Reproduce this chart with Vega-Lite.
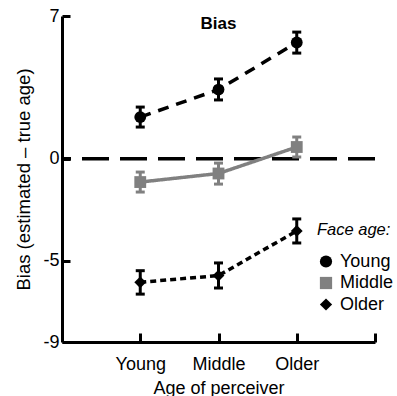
{
  "$schema": "https://vega.github.io/schema/vega-lite/v6.json",
  "width": 313,
  "height": 326,
  "autosize": {"type": "none"},
  "padding": {"left": 62, "top": 16, "right": 22, "bottom": 54},
  "background": "white",
  "title": {"text": "Bias", "frame": "group", "anchor": "middle", "orient": "top", "offset": 0, "dy": 39, "fontSize": 17, "fontWeight": "bold", "font": "Liberation Sans", "color": "black", "baseline": "alphabetic"},
  "config": {
    "view": {"stroke": null},
    "font": "Liberation Sans",
    "axis": {"domainColor": "black", "domainWidth": 3, "tickColor": "black", "tickWidth": 3, "grid": false, "labelColor": "black", "titleColor": "black", "labelFont": "Liberation Sans", "titleFont": "Liberation Sans", "labelFontSize": 18, "titleFontSize": 18, "titleFontWeight": "normal"}
  },
  "datasets": {
    "pts": [
      {"perceiver": 1, "face": "Young", "bias": 2.04, "lo": 1.55, "hi": 2.53},
      {"perceiver": 2, "face": "Young", "bias": 3.39, "lo": 2.88, "hi": 3.91},
      {"perceiver": 3, "face": "Young", "bias": 5.7, "lo": 5.18, "hi": 6.21},
      {"perceiver": 1, "face": "Middle", "bias": -1.15, "lo": -1.64, "hi": -0.66},
      {"perceiver": 2, "face": "Middle", "bias": -0.73, "lo": -1.25, "hi": -0.22},
      {"perceiver": 3, "face": "Middle", "bias": 0.57, "lo": 0.08, "hi": 1.06},
      {"perceiver": 1, "face": "Older", "bias": -6.07, "lo": -6.65, "hi": -5.5},
      {"perceiver": 2, "face": "Older", "bias": -5.74, "lo": -6.35, "hi": -5.12},
      {"perceiver": 3, "face": "Older", "bias": -3.55, "lo": -4.14, "hi": -2.96}
    ],
    "zero": [{"y": 0}]
  },
  "layer": [
    {
      "data": {"name": "zero"},
      "mark": {"type": "rule", "strokeDash": [27, 11], "strokeWidth": 3.5, "color": "black"},
      "encoding": {
        "y": {"field": "y", "type": "quantitative", "scale": {"domain": [-9, 7], "nice": false, "zero": false},
          "axis": {"values": [7, 0, -5, -9], "labelExpr": "'' + datum.value", "tickSize": -8, "labelPadding": 11, "title": "Bias (estimated \u2013 true age)", "titlePadding": 9, "titleFontSize": 18.5}}
      }
    },
    {
      "data": {"name": "pts"},
      "mark": {"type": "line", "strokeWidth": 3.5},
      "encoding": {
        "x": {"field": "perceiver", "type": "quantitative", "scale": {"domain": [0, 4], "nice": false, "zero": false},
          "axis": {"values": [1, 2, 3, 4], "tickSize": -9, "labelPadding": 22, "labelExpr": "datum.value == 1 ? 'Young' : datum.value == 2 ? 'Middle' : datum.value == 3 ? 'Older' : ''", "title": "Age of perceiver", "titlePadding": 6}},
        "y": {"field": "bias", "type": "quantitative"},
        "stroke": {"field": "face", "type": "nominal", "scale": {"domain": ["Middle", "Young", "Older"], "range": ["#808080", "#000000", "#000000"]}, "legend": null},
        "strokeDash": {"field": "face", "type": "nominal", "scale": {"domain": ["Older", "Middle", "Young"], "range": [[6, 4], [1, 0], [11, 8]]}, "legend": null}
      }
    },
    {
      "data": {"name": "pts"},
      "mark": {"type": "rule", "strokeWidth": 3},
      "encoding": {
        "x": {"field": "perceiver", "type": "quantitative"},
        "y": {"field": "lo", "type": "quantitative"},
        "y2": {"field": "hi"},
        "stroke": {"field": "face", "type": "nominal", "legend": null}
      }
    },
    {
      "data": {"name": "pts"},
      "mark": {"type": "tick", "orient": "horizontal", "size": 9, "thickness": 3, "opacity": 1},
      "encoding": {
        "x": {"field": "perceiver", "type": "quantitative"},
        "y": {"field": "lo", "type": "quantitative"},
        "color": {"field": "face", "type": "nominal", "scale": {"domain": ["Middle", "Young", "Older"], "range": ["#808080", "#000000", "#000000"]}, "legend": null}
      }
    },
    {
      "data": {"name": "pts"},
      "mark": {"type": "tick", "orient": "horizontal", "size": 9, "thickness": 3, "opacity": 1},
      "encoding": {
        "x": {"field": "perceiver", "type": "quantitative"},
        "y": {"field": "hi", "type": "quantitative"},
        "color": {"field": "face", "type": "nominal", "legend": null}
      }
    },
    {
      "data": {"name": "pts"},
      "mark": {"type": "point", "filled": true, "opacity": 1, "size": 140},
      "encoding": {
        "x": {"field": "perceiver", "type": "quantitative"},
        "y": {"field": "bias", "type": "quantitative"},
        "fill": {"field": "face", "type": "nominal", "scale": {"domain": ["Young", "Middle", "Older"], "range": ["#000000", "#808080", "#000000"]},
          "legend": {"title": "Face age:", "orient": "none", "legendX": 255, "legendY": 206, "padding": 0, "titleFontStyle": "italic", "titleFontWeight": "normal", "titleFontSize": 16.5, "titleFont": "Liberation Sans", "titleColor": "black", "titlePadding": 14, "labelFontSize": 18, "labelFont": "Liberation Sans", "labelColor": "black", "labelOffset": 5, "symbolSize": 150, "symbolStrokeWidth": 0, "rowPadding": 3.5}},
        "shape": {"field": "face", "type": "nominal", "scale": {"domain": ["Young", "Middle", "Older"], "range": ["circle", "square", "diamond"]},
          "legend": {"title": "Face age:", "orient": "none", "legendX": 255, "legendY": 206, "padding": 0, "titleFontStyle": "italic", "titleFontWeight": "normal", "titleFontSize": 16.5, "titleFont": "Liberation Sans", "titleColor": "black", "titlePadding": 14, "labelFontSize": 18, "labelFont": "Liberation Sans", "labelColor": "black", "labelOffset": 5, "symbolSize": 150, "symbolStrokeWidth": 0, "rowPadding": 3.5}}
      }
    }
  ]
}
